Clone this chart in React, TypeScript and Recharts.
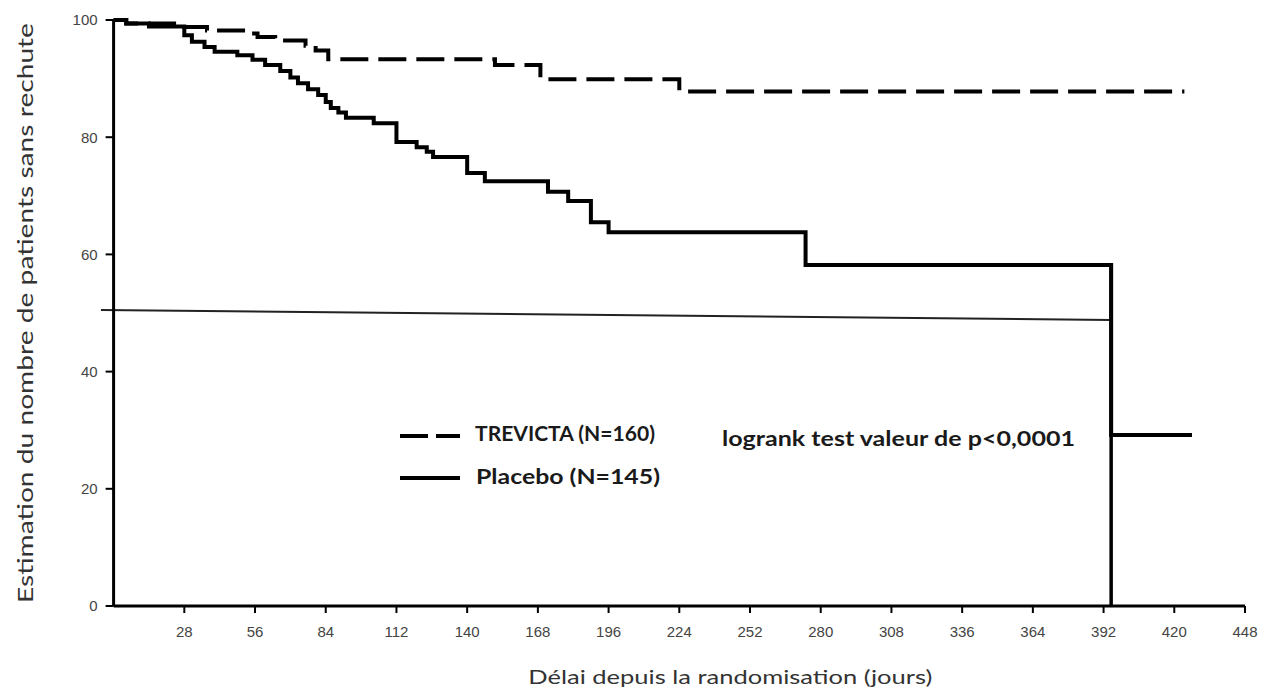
import { Legend, Line, LineChart, ReferenceLine, XAxis, YAxis } from "recharts";

// Kaplan-Meier estimates (days, % without relapse)
const trevictaDays = [0, 5, 28, 37, 53, 57, 64, 76, 80, 85, 151, 169, 224, 424];
const trevictaSurvival = [100, 99.4, 98.8, 98.2, 97.7, 97.1, 96.5, 95.6, 94.8, 93.3, 92.3, 89.9, 87.8, 87.8];

const placeboDays = [
  0, 5, 14, 28, 31, 36, 40, 49, 55, 60, 66, 70, 73, 77, 81, 84, 86, 89, 92, 103,
  112, 120, 124, 126.5, 140, 147, 172, 180, 189, 196, 274, 395, 427,
];
const placeboSurvival = [
  100, 99.4, 98.9, 97.4, 96.3, 95.4, 94.6, 94.0, 93.2, 92.3, 91.3, 90.2, 89.2, 88.2, 87.2, 86.0, 85.0, 84.2, 83.3, 82.4,
  79.2, 78.3, 77.5, 76.6, 73.9, 72.5, 70.7, 69.1, 65.5, 63.8, 58.2, 29.2, 29.2,
];

// the extra thin line and the vertical drop drawn on the original figure
const guideDays = [-5, 395];
const guideValues = [50.5, 48.8];
const dropDays = [395, 395];
const dropValues = [58.2, 0];

const xTicks = [28, 56, 84, 112, 140, 168, 196, 224, 252, 280, 308, 336, 364, 392, 420, 448];
const yTicks = [0, 20, 40, 60, 80, 100];

const trevictaData = trevictaDays.map((day, i) => ({ day, surv: trevictaSurvival[i] }));
const placeboData = placeboDays.map((day, i) => ({ day, surv: placeboSurvival[i] }));

const labelFont = "Lato, 'Open Sans', sans-serif";
const tickStyle = { fontFamily: "'Liberation Sans', Arial, sans-serif", fontSize: 15, fill: "#444" };

function YTitle(props: any) {
  const vb = props.viewBox || { x: 0, y: 12, width: 105.6, height: 586 };
  const cx = 25;
  const cy = vb.y + vb.height / 2;
  return (
    <text
      x={cx}
      y={cy}
      transform={`rotate(-90, ${cx}, ${cy})`}
      textAnchor="middle"
      fontFamily={labelFont}
      fontSize={21}
      fill="#333"
      textLength={580}
      lengthAdjust="spacingAndGlyphs"
    >
      Estimation du nombre de patients sans rechute
    </text>
  );
}

function XTitle(props: any) {
  const vb = props.viewBox || { x: 105.6, y: 598, width: 1131.4, height: 80 };
  return (
    <text
      x={vb.x + vb.width / 2 + 51}
      y={vb.y + 78}
      textAnchor="middle"
      fontFamily={labelFont}
      fontSize={20}
      fill="#333"
      textLength={404}
      lengthAdjust="spacingAndGlyphs"
    >
      Délai depuis la randomisation (jours)
    </text>
  );
}

function KmLegend() {
  return (
    <svg width={700} height={80}>
      <line x1={2} y1={18} x2={62} y2={18} stroke="#000" strokeWidth={4} strokeDasharray="28 8" />
      <text x={77} y={23} fontFamily={labelFont} fontWeight={700} fontSize={20} fill="#1a1a1a" textLength={180} lengthAdjust="spacingAndGlyphs">
        TREVICTA (N=160)
      </text>
      <line x1={2} y1={60} x2={62} y2={60} stroke="#000" strokeWidth={4} />
      <text x={78} y={66} fontFamily={labelFont} fontWeight={700} fontSize={20} fill="#1a1a1a" textLength={184} lengthAdjust="spacingAndGlyphs">
        Placebo (N=145)
      </text>
      <text x={324} y={28} fontFamily={labelFont} fontWeight={700} fontSize={20} fill="#1a1a1a" textLength={353} lengthAdjust="spacingAndGlyphs">
        logrank test valeur de p&lt;0,0001
      </text>
    </svg>
  );
}

export default function App() {
  return (
    <LineChart width={1256} height={687} margin={{ top: 12, right: 19, left: 0, bottom: 9 }}>
      <XAxis
        dataKey="day"
        type="number"
        domain={[0, 448]}
        ticks={xTicks}
        tick={tickStyle}
        tickSize={7}
        tickMargin={13}
        height={80}
        axisLine={{ stroke: "#000", strokeWidth: 3 }}
        tickLine={{ stroke: "#000", strokeWidth: 2 }}
        label={{ content: XTitle }}
      />
      <YAxis
        type="number"
        domain={[0, 100]}
        ticks={yTicks}
        tick={tickStyle}
        tickSize={8}
        tickMargin={8}
        width={105.6}
        axisLine={{ stroke: "#000", strokeWidth: 3 }}
        tickLine={{ stroke: "#000", strokeWidth: 2 }}
        label={{ content: YTitle }}
      />
      <ReferenceLine
        segment={[
          { x: guideDays[0], y: guideValues[0] },
          { x: guideDays[1], y: guideValues[1] },
        ]}
        stroke="#222"
        strokeWidth={2}
        ifOverflow="visible"
      />
      <ReferenceLine
        segment={[
          { x: dropDays[0], y: dropValues[0] },
          { x: dropDays[1], y: dropValues[1] },
        ]}
        stroke="#000"
        strokeWidth={3.5}
        ifOverflow="visible"
      />
      <Line
        data={trevictaData}
        dataKey="surv"
        name="TREVICTA (N=160)"
        type="stepAfter"
        stroke="#000"
        strokeWidth={4}
        strokeDasharray="28 10"
        dot={false}
        isAnimationActive={false}
      />
      <Line
        data={placeboData}
        dataKey="surv"
        name="Placebo (N=145)"
        type="stepAfter"
        stroke="#000"
        strokeWidth={4}
        dot={false}
        isAnimationActive={false}
      />
      <Legend
        layout="vertical"
        align="center"
        verticalAlign="middle"
        content={KmLegend}
        wrapperStyle={{ left: 390, top: 410, width: 700, height: 80 }}
      />
    </LineChart>
  );
}
